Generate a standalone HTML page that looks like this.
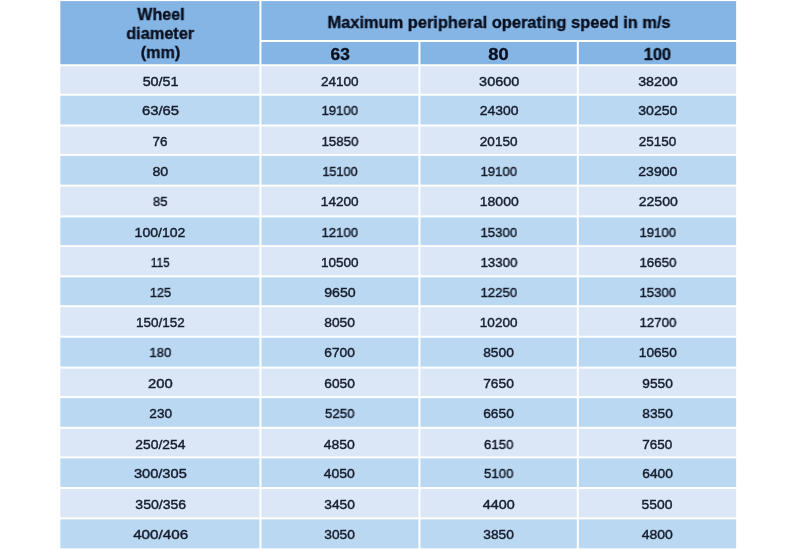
<!DOCTYPE html>
<html><head><meta charset="utf-8"><style>
html,body{margin:0;padding:0;background:#fff;width:800px;height:550px;overflow:hidden;}
body{position:relative;font-family:"Liberation Sans",sans-serif;}
.bg{position:absolute;left:0;top:0;}
.h{background:#84b5e4;}
.l{background:#dbe7f7;}
.d{background:#bad8f1;}
.x{position:absolute;width:600px;text-align:center;line-height:1;white-space:nowrap;will-change:transform;}
.hb{font-weight:bold;color:#0a0f1e;-webkit-text-stroke:0.35px #0a0f1e;}
.bt{color:#161c2c;-webkit-text-stroke:0.42px #161c2c;}
</style></head><body>

<svg class="bg" width="800" height="550" viewBox="0 0 800 550"><rect x="60.36" y="1.10" width="199.08" height="63.15" fill="#84b5e4"/><rect x="261.44" y="1.10" width="474.70" height="38.90" fill="#84b5e4"/><rect x="261.44" y="42.00" width="157.01" height="22.25" fill="#84b5e4"/><rect x="420.45" y="42.00" width="156.35" height="22.25" fill="#84b5e4"/><rect x="578.80" y="42.00" width="157.34" height="22.25" fill="#84b5e4"/><rect x="60.36" y="66.25" width="199.08" height="27.49" fill="#dbe7f7"/><rect x="261.44" y="66.25" width="157.01" height="27.49" fill="#dbe7f7"/><rect x="420.45" y="66.25" width="156.35" height="27.49" fill="#dbe7f7"/><rect x="578.80" y="66.25" width="157.34" height="27.49" fill="#dbe7f7"/><rect x="60.36" y="95.74" width="199.08" height="28.76" fill="#bad8f1"/><rect x="261.44" y="95.74" width="157.01" height="28.76" fill="#bad8f1"/><rect x="420.45" y="95.74" width="156.35" height="28.76" fill="#bad8f1"/><rect x="578.80" y="95.74" width="157.34" height="28.76" fill="#bad8f1"/><rect x="60.36" y="126.50" width="199.08" height="27.37" fill="#dbe7f7"/><rect x="261.44" y="126.50" width="157.01" height="27.37" fill="#dbe7f7"/><rect x="420.45" y="126.50" width="156.35" height="27.37" fill="#dbe7f7"/><rect x="578.80" y="126.50" width="157.34" height="27.37" fill="#dbe7f7"/><rect x="60.36" y="155.87" width="199.08" height="28.76" fill="#bad8f1"/><rect x="261.44" y="155.87" width="157.01" height="28.76" fill="#bad8f1"/><rect x="420.45" y="155.87" width="156.35" height="28.76" fill="#bad8f1"/><rect x="578.80" y="155.87" width="157.34" height="28.76" fill="#bad8f1"/><rect x="60.36" y="186.63" width="199.08" height="28.75" fill="#dbe7f7"/><rect x="261.44" y="186.63" width="157.01" height="28.75" fill="#dbe7f7"/><rect x="420.45" y="186.63" width="156.35" height="28.75" fill="#dbe7f7"/><rect x="578.80" y="186.63" width="157.34" height="28.75" fill="#dbe7f7"/><rect x="60.36" y="217.38" width="199.08" height="27.74" fill="#bad8f1"/><rect x="261.44" y="217.38" width="157.01" height="27.74" fill="#bad8f1"/><rect x="420.45" y="217.38" width="156.35" height="27.74" fill="#bad8f1"/><rect x="578.80" y="217.38" width="157.34" height="27.74" fill="#bad8f1"/><rect x="60.36" y="247.12" width="199.08" height="28.26" fill="#dbe7f7"/><rect x="261.44" y="247.12" width="157.01" height="28.26" fill="#dbe7f7"/><rect x="420.45" y="247.12" width="156.35" height="28.26" fill="#dbe7f7"/><rect x="578.80" y="247.12" width="157.34" height="28.26" fill="#dbe7f7"/><rect x="60.36" y="277.38" width="199.08" height="27.85" fill="#bad8f1"/><rect x="261.44" y="277.38" width="157.01" height="27.85" fill="#bad8f1"/><rect x="420.45" y="277.38" width="156.35" height="27.85" fill="#bad8f1"/><rect x="578.80" y="277.38" width="157.34" height="27.85" fill="#bad8f1"/><rect x="60.36" y="307.23" width="199.08" height="28.51" fill="#dbe7f7"/><rect x="261.44" y="307.23" width="157.01" height="28.51" fill="#dbe7f7"/><rect x="420.45" y="307.23" width="156.35" height="28.51" fill="#dbe7f7"/><rect x="578.80" y="307.23" width="157.34" height="28.51" fill="#dbe7f7"/><rect x="60.36" y="337.74" width="199.08" height="28.89" fill="#bad8f1"/><rect x="261.44" y="337.74" width="157.01" height="28.89" fill="#bad8f1"/><rect x="420.45" y="337.74" width="156.35" height="28.89" fill="#bad8f1"/><rect x="578.80" y="337.74" width="157.34" height="28.89" fill="#bad8f1"/><rect x="60.36" y="368.63" width="199.08" height="27.49" fill="#dbe7f7"/><rect x="261.44" y="368.63" width="157.01" height="27.49" fill="#dbe7f7"/><rect x="420.45" y="368.63" width="156.35" height="27.49" fill="#dbe7f7"/><rect x="578.80" y="368.63" width="157.34" height="27.49" fill="#dbe7f7"/><rect x="60.36" y="398.12" width="199.08" height="28.64" fill="#bad8f1"/><rect x="261.44" y="398.12" width="157.01" height="28.64" fill="#bad8f1"/><rect x="420.45" y="398.12" width="156.35" height="28.64" fill="#bad8f1"/><rect x="578.80" y="398.12" width="157.34" height="28.64" fill="#bad8f1"/><rect x="60.36" y="428.76" width="199.08" height="27.60" fill="#dbe7f7"/><rect x="261.44" y="428.76" width="157.01" height="27.60" fill="#dbe7f7"/><rect x="420.45" y="428.76" width="156.35" height="27.60" fill="#dbe7f7"/><rect x="578.80" y="428.76" width="157.34" height="27.60" fill="#dbe7f7"/><rect x="60.36" y="458.36" width="199.08" height="28.64" fill="#bad8f1"/><rect x="261.44" y="458.36" width="157.01" height="28.64" fill="#bad8f1"/><rect x="420.45" y="458.36" width="156.35" height="28.64" fill="#bad8f1"/><rect x="578.80" y="458.36" width="157.34" height="28.64" fill="#bad8f1"/><rect x="60.36" y="489.00" width="199.08" height="28.36" fill="#dbe7f7"/><rect x="261.44" y="489.00" width="157.01" height="28.36" fill="#dbe7f7"/><rect x="420.45" y="489.00" width="156.35" height="28.36" fill="#dbe7f7"/><rect x="578.80" y="489.00" width="157.34" height="28.36" fill="#dbe7f7"/><rect x="60.36" y="519.36" width="199.08" height="28.94" fill="#bad8f1"/><rect x="261.44" y="519.36" width="157.01" height="28.94" fill="#bad8f1"/><rect x="420.45" y="519.36" width="156.35" height="28.94" fill="#bad8f1"/><rect x="578.80" y="519.36" width="157.34" height="28.94" fill="#bad8f1"/></svg>
<div class="x hb" style="left:-139.60px;top:7px;font-size:16.6px;transform:translateX(0.99px) scaleX(0.9694);">Wheel</div>
<div class="x hb" style="left:-139.60px;top:26px;font-size:16.6px;transform:translateX(0.16px) scaleX(0.9830);">diameter</div>
<div class="x hb" style="left:-139.60px;top:45px;font-size:16.6px;transform:translateX(0.49px) scaleX(0.9750);">(mm)</div>
<div class="x hb" style="left:198.50px;top:15px;font-size:16.6px;transform:translateX(0.01px) scaleX(0.9899);">Maximum peripheral operating speed in m/s</div>
<div class="x hb" style="left:39.94px;top:47px;font-size:16.6px;transform:translateX(0.22px) scaleX(1.0417);">63</div>
<div class="x hb" style="left:198.62px;top:47px;font-size:16.6px;transform:translateX(-0.47px) scaleX(1.1059);">80</div>
<div class="x hb" style="left:356.97px;top:47px;font-size:16.6px;transform:translateX(0.37px) scaleX(0.9966);">100</div>
<div class="x bt" style="left:-139.60px;top:75px;font-size:13.4px;transform:translateX(0.59px) scaleX(1.0710);">50/51</div>
<div class="x bt" style="left:39.94px;top:75px;font-size:13.4px;transform:translateX(-0.29px) scaleX(1.0088);">24100</div>
<div class="x bt" style="left:198.62px;top:75px;font-size:13.4px;transform:translateX(0.18px) scaleX(1.0783);">30600</div>
<div class="x bt" style="left:356.97px;top:75px;font-size:13.4px;transform:translateX(0.97px) scaleX(1.0644);">38200</div>
<div class="x bt" style="left:-139.60px;top:104px;font-size:13.4px;transform:translateX(0.56px) scaleX(1.1095);">63/65</div>
<div class="x bt" style="left:39.94px;top:104px;font-size:13.4px;transform:translateX(-0.26px) scaleX(0.9820);">19100</div>
<div class="x bt" style="left:198.62px;top:104px;font-size:13.4px;transform:translateX(0.07px) scaleX(1.0392);">24300</div>
<div class="x bt" style="left:356.97px;top:104px;font-size:13.4px;transform:translateX(0.80px) scaleX(1.0512);">30250</div>
<div class="x bt" style="left:-139.60px;top:135px;font-size:13.4px;transform:translateX(-0.02px) scaleX(1.0060);">76</div>
<div class="x bt" style="left:39.94px;top:135px;font-size:13.4px;transform:translateX(-0.10px) scaleX(0.9915);">15850</div>
<div class="x bt" style="left:198.62px;top:135px;font-size:13.4px;transform:translateX(-0.33px) scaleX(1.0107);">20150</div>
<div class="x bt" style="left:356.97px;top:135px;font-size:13.4px;transform:translateX(0.59px) scaleX(1.0060);">25150</div>
<div class="x bt" style="left:-139.60px;top:165px;font-size:13.4px;transform:translateX(0.38px) scaleX(1.0602);">80</div>
<div class="x bt" style="left:39.94px;top:165px;font-size:13.4px;transform:translateX(-0.06px) scaleX(0.9446);">15100</div>
<div class="x bt" style="left:198.62px;top:165px;font-size:13.4px;transform:translateX(-0.25px) scaleX(0.9820);">19100</div>
<div class="x bt" style="left:356.97px;top:165px;font-size:13.4px;transform:translateX(0.80px) scaleX(1.0512);">23900</div>
<div class="x bt" style="left:-139.60px;top:195px;font-size:13.4px;transform:translateX(0.25px) scaleX(0.9777);">85</div>
<div class="x bt" style="left:39.94px;top:195px;font-size:13.4px;transform:translateX(-0.32px) scaleX(1.0107);">14200</div>
<div class="x bt" style="left:198.62px;top:195px;font-size:13.4px;transform:translateX(0.26px) scaleX(1.0443);">18000</div>
<div class="x bt" style="left:356.97px;top:195px;font-size:13.4px;transform:translateX(1.25px) scaleX(1.0488);">22500</div>
<div class="x bt" style="left:-139.60px;top:226px;font-size:13.4px;transform:translateX(-0.02px) scaleX(1.0485);">100/102</div>
<div class="x bt" style="left:39.94px;top:226px;font-size:13.4px;transform:translateX(-0.26px) scaleX(0.9820);">12100</div>
<div class="x bt" style="left:198.62px;top:226px;font-size:13.4px;transform:translateX(-0.23px) scaleX(0.9840);">15300</div>
<div class="x bt" style="left:356.97px;top:226px;font-size:13.4px;transform:translateX(0.74px) scaleX(0.9820);">19100</div>
<div class="x bt" style="left:-139.60px;top:256px;font-size:13.4px;transform:translateX(0.26px) scaleX(0.8788);">115</div>
<div class="x bt" style="left:39.94px;top:256px;font-size:13.4px;transform:translateX(-0.29px) scaleX(1.0088);">10500</div>
<div class="x bt" style="left:198.62px;top:256px;font-size:13.4px;transform:translateX(-0.13px) scaleX(0.9902);">13300</div>
<div class="x bt" style="left:356.97px;top:256px;font-size:13.4px;transform:translateX(0.90px) scaleX(0.9915);">16650</div>
<div class="x bt" style="left:-139.60px;top:286px;font-size:13.4px;transform:translateX(0.49px) scaleX(0.9447);">125</div>
<div class="x bt" style="left:39.94px;top:286px;font-size:13.4px;transform:translateX(-0.03px) scaleX(1.0574);">9650</div>
<div class="x bt" style="left:198.62px;top:286px;font-size:13.4px;transform:translateX(-0.23px) scaleX(0.9840);">12250</div>
<div class="x bt" style="left:356.97px;top:286px;font-size:13.4px;transform:translateX(0.74px) scaleX(0.9820);">15300</div>
<div class="x bt" style="left:-139.60px;top:316px;font-size:13.4px;transform:translateX(0.31px) scaleX(1.0061);">150/152</div>
<div class="x bt" style="left:39.94px;top:316px;font-size:13.4px;transform:translateX(-0.44px) scaleX(1.0299);">8050</div>
<div class="x bt" style="left:198.62px;top:316px;font-size:13.4px;transform:translateX(-0.33px) scaleX(1.0107);">10200</div>
<div class="x bt" style="left:356.97px;top:316px;font-size:13.4px;transform:translateX(0.87px) scaleX(0.9902);">12700</div>
<div class="x bt" style="left:-139.60px;top:346px;font-size:13.4px;transform:translateX(0.36px) scaleX(0.9782);">180</div>
<div class="x bt" style="left:39.94px;top:346px;font-size:13.4px;transform:translateX(-0.38px) scaleX(1.0256);">6700</div>
<div class="x bt" style="left:198.62px;top:346px;font-size:13.4px;transform:translateX(-0.45px) scaleX(1.0299);">8500</div>
<div class="x bt" style="left:356.97px;top:346px;font-size:13.4px;transform:translateX(0.82px) scaleX(1.0180);">10650</div>
<div class="x bt" style="left:-139.60px;top:377px;font-size:13.4px;transform:translateX(0.40px) scaleX(1.1041);">200</div>
<div class="x bt" style="left:39.94px;top:377px;font-size:13.4px;transform:translateX(-0.38px) scaleX(1.0256);">6050</div>
<div class="x bt" style="left:198.62px;top:377px;font-size:13.4px;transform:translateX(-0.48px) scaleX(1.0289);">7650</div>
<div class="x bt" style="left:356.97px;top:377px;font-size:13.4px;transform:translateX(0.59px) scaleX(1.0241);">9550</div>
<div class="x bt" style="left:-139.60px;top:407px;font-size:13.4px;transform:translateX(0.69px) scaleX(1.0174);">230</div>
<div class="x bt" style="left:39.94px;top:407px;font-size:13.4px;transform:translateX(-0.25px) scaleX(0.9838);">5250</div>
<div class="x bt" style="left:198.62px;top:407px;font-size:13.4px;transform:translateX(-0.45px) scaleX(1.0299);">6650</div>
<div class="x bt" style="left:356.97px;top:407px;font-size:13.4px;transform:translateX(0.59px) scaleX(1.0241);">8350</div>
<div class="x bt" style="left:-139.60px;top:438px;font-size:13.4px;transform:translateX(0.33px) scaleX(1.0342);">250/254</div>
<div class="x bt" style="left:39.94px;top:438px;font-size:13.4px;transform:translateX(-0.69px) scaleX(1.0461);">4850</div>
<div class="x bt" style="left:198.62px;top:438px;font-size:13.4px;transform:translateX(-0.27px) scaleX(0.9817);">6150</div>
<div class="x bt" style="left:356.97px;top:438px;font-size:13.4px;transform:translateX(0.34px) scaleX(1.0075);">7650</div>
<div class="x bt" style="left:-139.60px;top:467px;font-size:13.4px;transform:translateX(0.34px) scaleX(1.0916);">300/305</div>
<div class="x bt" style="left:39.94px;top:467px;font-size:13.4px;transform:translateX(-0.69px) scaleX(1.0461);">4050</div>
<div class="x bt" style="left:198.62px;top:467px;font-size:13.4px;transform:translateX(-0.27px) scaleX(0.9817);">5100</div>
<div class="x bt" style="left:356.97px;top:467px;font-size:13.4px;transform:translateX(0.56px) scaleX(1.0299);">6400</div>
<div class="x bt" style="left:-139.60px;top:498px;font-size:13.4px;transform:translateX(0.74px) scaleX(1.0510);">350/356</div>
<div class="x bt" style="left:39.94px;top:498px;font-size:13.4px;transform:translateX(-0.38px) scaleX(1.0256);">3450</div>
<div class="x bt" style="left:198.62px;top:498px;font-size:13.4px;transform:translateX(-0.30px) scaleX(1.0741);">4400</div>
<div class="x bt" style="left:356.97px;top:498px;font-size:13.4px;transform:translateX(-0.07px) scaleX(1.0356);">5500</div>
<div class="x bt" style="left:-139.60px;top:528px;font-size:13.4px;transform:translateX(0.66px) scaleX(1.1371);">400/406</div>
<div class="x bt" style="left:39.94px;top:528px;font-size:13.4px;transform:translateX(-0.38px) scaleX(1.0256);">3050</div>
<div class="x bt" style="left:198.62px;top:528px;font-size:13.4px;transform:translateX(-0.38px) scaleX(1.0256);">3850</div>
<div class="x bt" style="left:356.97px;top:528px;font-size:13.4px;transform:translateX(0.31px) scaleX(1.0461);">4800</div>
</body></html>
